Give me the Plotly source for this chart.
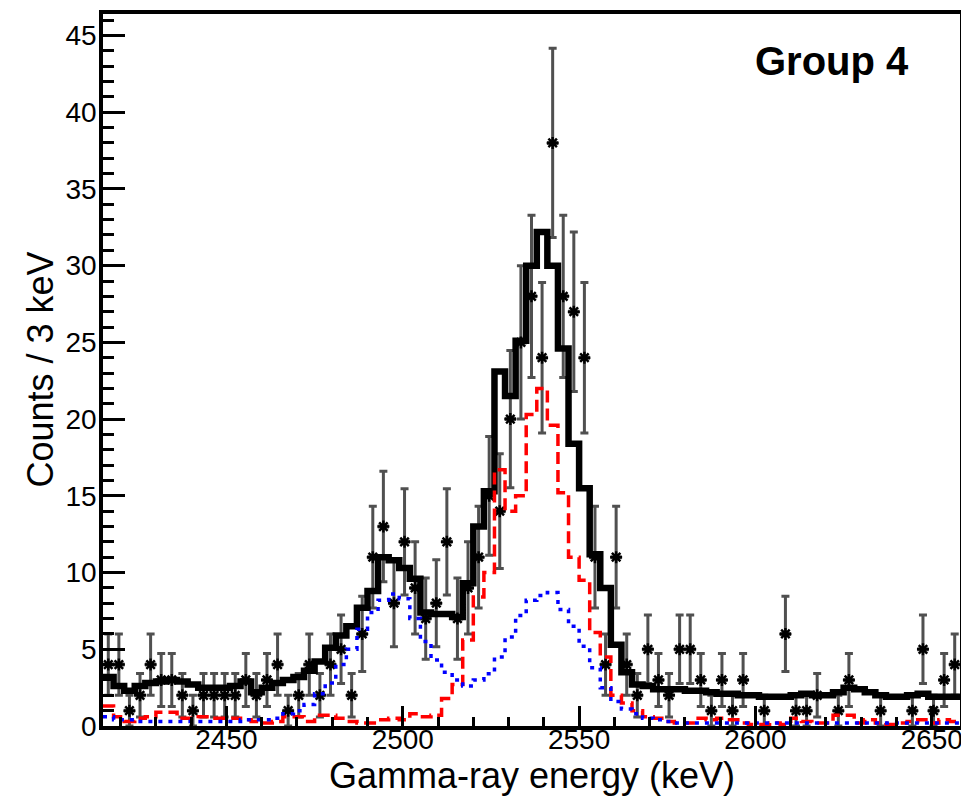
import numpy as np
import plotly.graph_objects as go

# Bin centres (3 keV bins)
energy = np.arange(2416.5, 2658.0, 3.0)
bin_width = 3.0

# Observed counts per bin
counts = [4, 4, 1, 2, 4, 3, 3, 2, 1, 2, 2, 2, 2, 3, 2, 3, 4, 1, 2, 4,
          2, 4, 5, 2, 6, 11, 13, 8, 12, 9, 7, 8, 12, 7, 9, 11, 15, 14, 20, 25,
          28, 24, 38, 28, 27, 24, 11, 4, 11, 4, 2, 5, 3, 2, 5, 5, 3, 1, 3, 1,
          3, 0, 1, 0, 6, 1, 1, 2, 0, 1, 3, 0, 0, 1, 0, 0, 1, 5, 1, 3, 4]

# Total fit (black)
total_fit = [3.2, 2.6, 2.3, 2.6, 2.8, 2.9, 3.0, 2.9, 2.7, 2.5, 2.5, 2.5, 2.6, 2.9, 2.2, 2.5, 2.8, 3.0, 3.2, 3.6,
             4.2, 5.1, 5.9, 6.5, 7.7, 8.8, 11.0, 10.8, 10.3, 9.6, 7.4, 7.3, 7.3, 7.1, 9.3, 13.0, 15.3, 23.1, 21.5, 25.1,
             30.0, 32.2, 30.0, 24.6, 18.4, 15.5, 11.2, 9.0, 5.3, 3.5, 2.7, 2.6, 2.4, 2.4, 2.4, 2.3, 2.3, 2.2, 2.1, 2.1,
             2.0, 2.0, 1.9, 1.9, 1.9, 2.0, 2.1, 2.0, 2.0, 2.2, 2.5, 2.4, 2.2, 2.0, 1.9, 1.9, 2.0, 2.1, 1.9, 1.9, 1.9]

# Component 1 (red dashed)
comp_red = [1.3, 0.6, 0.3, 0.5, 0.6, 0.9, 0.9, 0.5, 0.5, 0.6, 0.5, 0.5, 0.5, 0.4, 0.3, 0.2, 0.3, 0.6, 0.6, 0.3,
            0.7, 0.7, 0.5, 0.3, 0.2, 0.2, 0.4, 0.5, 0.4, 0.8, 0.6, 0.7, 1.8, 2.7, 5.6, 8.4, 10.0, 16.7, 14.0, 15.0,
            20.3, 22.0, 19.6, 15.2, 11.0, 9.5, 6.1, 4.5, 2.0, 1.5, 1.0, 0.6, 0.5, 0.3, 0.2, 0.2, 0.5, 0.4, 0.5, 0.4,
            0.2, 0.1, 0.1, 0.2, 0.1, 0.5, 0.3, 0.2, 0.2, 0.7, 0.7, 0.2, 0.4, 0.2, 0.1, 0.2, 0.3, 0.4, 0.2, 0.4, 0.3]

# Component 2 (blue dotted)
comp_blue = [0.6, 0.4, 0.4, 0.3, 0.3, 0.3, 0.3, 0.3, 0.3, 0.3, 0.3, 0.3, 0.3, 0.4, 0.4, 0.4, 0.5, 0.8, 1.0, 1.4,
             2.1, 2.8, 4.0, 5.0, 6.3, 7.4, 8.2, 8.6, 8.3, 7.0, 5.5, 4.3, 3.5, 3.0, 2.6, 3.0, 3.4, 4.5, 5.8, 7.2,
             8.2, 8.5, 8.7, 7.6, 6.5, 5.2, 3.8, 2.5, 1.6, 1.1, 0.8, 0.5, 0.4, 0.3, 0.2, 0.2, 0.2, 0.2, 0.2, 0.2,
             0.2, 0.2, 0.2, 0.2, 0.2, 0.2, 0.2, 0.2, 0.2, 0.2, 0.2, 0.2, 0.2, 0.2, 0.2, 0.2, 0.2, 0.2, 0.2, 0.2, 0.2]

x_ticks = [2450, 2500, 2550, 2600, 2650]
y_ticks = [0, 5, 10, 15, 20, 25, 30, 35, 40, 45]


def step(values):
    edges = list(energy - bin_width / 2) + [energy[-1] + bin_width / 2]
    return edges, list(values) + [values[-1]]


fig = go.Figure()

# data points (skip empty bins)
cx = [e for e, c in zip(energy, counts) if c > 0]
cy = [c for c in counts if c > 0]
cerr = [np.sqrt(c) for c in cy]
fig.add_trace(go.Scatter(
    x=cx, y=cy, mode="markers",
    marker=dict(symbol="asterisk-open", size=10, color="black",
                line=dict(color="black", width=2.5)),
    error_y=dict(type="data", array=cerr, visible=True, color="rgb(80,80,80)",
                 thickness=3, width=4),
    error_x=dict(type="constant", value=bin_width / 2 - 0.4, visible=True,
                 color="rgb(80,80,80)", thickness=3.5, width=2),
    showlegend=False,
))

ex, ey = step(total_fit)
fig.add_trace(go.Scatter(x=ex, y=ey, mode="lines", line_shape="hv",
                         line=dict(color="black", width=6.5), showlegend=False))
ex, ey = step(comp_red)
fig.add_trace(go.Scatter(x=ex, y=ey, mode="lines", line_shape="hv",
                         line=dict(color="#ff0000", width=3.5, dash="12px,6px"),
                         showlegend=False))
ex, ey = step(comp_blue)
fig.add_trace(go.Scatter(x=ex, y=ey, mode="lines", line_shape="hv",
                         line=dict(color="#0000ff", width=3.5, dash="4px,6px"),
                         showlegend=False))

tick_font = dict(family="Liberation Sans, Arial, sans-serif", size=28, color="black")
title_font = dict(family="Liberation Sans, Arial, sans-serif", size=36, color="black")

fig.update_xaxes(
    range=[2415, 2658], showgrid=False, zeroline=False,
    showline=True, linecolor="black", linewidth=3.5, mirror=True,
    ticks="inside", ticklen=20, tickwidth=2.5, tickcolor="black",
    tickvals=x_ticks, ticktext=[str(v) for v in x_ticks],
    tickfont=tick_font, ticklabelstandoff=-14,
    minor=dict(dtick=10, tick0=2410, ticks="inside", ticklen=9, tickwidth=2.5,
               tickcolor="black", showgrid=False),
)
fig.update_yaxes(
    range=[0, 46.4], showgrid=False, zeroline=False,
    showline=True, linecolor="black", linewidth=3.5, mirror=True,
    ticks="inside", ticklen=22, tickwidth=2.5, tickcolor="black",
    tickvals=y_ticks, ticktext=[str(v) for v in y_ticks],
    tickfont=tick_font, ticklabelstandoff=-3,
    minor=dict(dtick=1, tick0=0, ticks="inside", ticklen=11, tickwidth=2.5,
               tickcolor="black", showgrid=False),
)

fig.add_annotation(text="Gamma-ray energy (keV)", xref="paper", yref="paper",
                   x=0.5, y=-0.07, xanchor="center", yanchor="middle",
                   showarrow=False, font=title_font)
fig.add_annotation(text="Counts / 3 keV", xref="paper", yref="paper",
                   x=-0.074, y=0.5, xanchor="center", yanchor="middle",
                   textangle=-90, showarrow=False, font=title_font)
fig.add_annotation(text="<b>Group 4</b>", xref="paper", yref="paper",
                   x=0.851, y=0.934, xanchor="center", yanchor="middle",
                   showarrow=False,
                   font=dict(family="Liberation Sans, Arial, sans-serif", size=40, color="black"))

# page body adds a small offset; size the figure so the plot frame lands where the reference has it
fig.update_layout(
    width=961, height=792,
    margin=dict(l=95, r=9, t=2, b=74),
    paper_bgcolor="white", plot_bgcolor="white",
)

fig.write_html("out.html")
